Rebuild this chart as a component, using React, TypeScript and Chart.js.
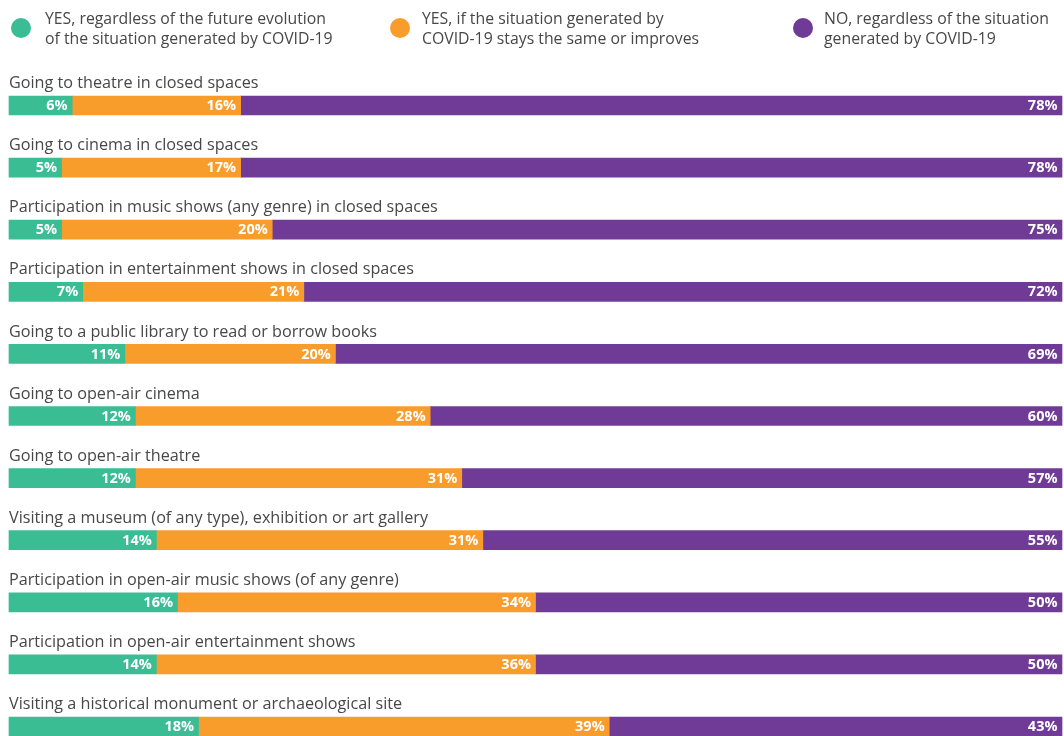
import React, { useEffect, useRef } from "react";
import { Chart, registerables } from "chart.js";

Chart.register(...registerables);

const categories = [
  "Going to theatre in closed spaces",
  "Going to cinema in closed spaces",
  "Participation in music shows (any genre) in closed spaces",
  "Participation in entertainment shows in closed spaces",
  "Going to a public library to read or borrow books",
  "Going to open-air cinema",
  "Going to open-air theatre",
  "Visiting a museum (of any type), exhibition or art gallery",
  "Participation in open-air music shows (of any genre)",
  "Participation in open-air entertainment shows",
  "Visiting a historical monument or archaeological site",
];

const yesRegardless = [6, 5, 5, 7, 11, 12, 12, 14, 16, 14, 18];
const yesIfSame = [16, 17, 20, 21, 20, 28, 31, 31, 34, 36, 39];
const noRegardless = [78, 78, 75, 72, 69, 60, 57, 55, 50, 50, 43];

const seriesLabels = [
  ["YES, regardless of the future evolution", "of the situation generated by COVID-19"],
  ["YES, if the situation generated by", "COVID-19 stays the same or improves"],
  ["NO, regardless of the situation", "generated by COVID-19"],
];

const seriesColors = ["#3bbd93", "#f89c2b", "#703b96"];

const FONT = '"Open Sans", "Noto Sans", sans-serif';

const legendCircleX = [21, 400, 803];
const legendTextX = [45, 422, 824];

const labelPlugin = {
  id: "customLabels",
  afterDatasetsDraw(chart: any) {
    const ctx = chart.ctx as CanvasRenderingContext2D;
    const area = chart.chartArea;
    ctx.save();

    // category labels above bars
    ctx.font = `16.2px ${FONT}`;
    ctx.fillStyle = "#474747";
    ctx.textAlign = "left";
    ctx.textBaseline = "middle";
    chart.getDatasetMeta(0).data.forEach((bar: any, i: number) => {
      ctx.fillText(categories[i], area.left, bar.y - 22);
    });

    // value labels inside segments
    ctx.font = `bold 14.5px ${FONT}`;
    ctx.fillStyle = "#ffffff";
    ctx.textAlign = "right";
    chart.data.datasets.forEach((ds: any, di: number) => {
      chart.getDatasetMeta(di).data.forEach((bar: any, i: number) => {
        ctx.fillText(`${ds.data[i]}%`, bar.x - 4.5, bar.y + 0.5);
      });
    });

    // legend
    chart.data.datasets.forEach((ds: any, di: number) => {
      ctx.beginPath();
      ctx.fillStyle = seriesColors[di];
      ctx.arc(legendCircleX[di], 28, 10, 0, Math.PI * 2);
      ctx.fill();
      ctx.font = `15.8px ${FONT}`;
      ctx.fillStyle = "#474747";
      ctx.textAlign = "left";
      const lines: string[] = seriesLabels[di];
      lines.forEach((line, li) => {
        ctx.fillText(line, legendTextX[di], 19 + li * 20);
      });
    });

    ctx.restore();
  },
};

export default function App() {
  const canvasRef = useRef<HTMLCanvasElement | null>(null);

  useEffect(() => {
    if (!canvasRef.current) return;
    const chart = new Chart(canvasRef.current, {
      type: "bar",
      data: {
        labels: categories,
        datasets: [
          { label: seriesLabels[0].join(" "), data: yesRegardless, backgroundColor: seriesColors[0] },
          { label: seriesLabels[1].join(" "), data: yesIfSame, backgroundColor: seriesColors[1] },
          { label: seriesLabels[2].join(" "), data: noRegardless, backgroundColor: seriesColors[2] },
        ].map((d) => ({ ...d, barThickness: 19, borderWidth: 0, clip: false as any })),
      },
      options: {
        indexAxis: "y",
        animation: false,
        responsive: true,
        maintainAspectRatio: false,
        layout: { padding: { left: 9, right: 2, top: 105.5, bottom: 9.5 } },
        plugins: {
          legend: { display: false },
          tooltip: { enabled: false },
        },
        scales: {
          x: {
            stacked: true,
            min: 0,
            max: 100,
            display: false,
          },
          y: {
            stacked: true,
            offset: false,
            display: false,
            grid: { display: false },
          },
        },
      },
      plugins: [labelPlugin],
    });
    return () => chart.destroy();
  }, []);

  return (
    <div style={{ position: "fixed", left: 0, top: 0, width: 1064, height: 736, background: "#fff" }}>
      <canvas ref={canvasRef} />
    </div>
  );
}
